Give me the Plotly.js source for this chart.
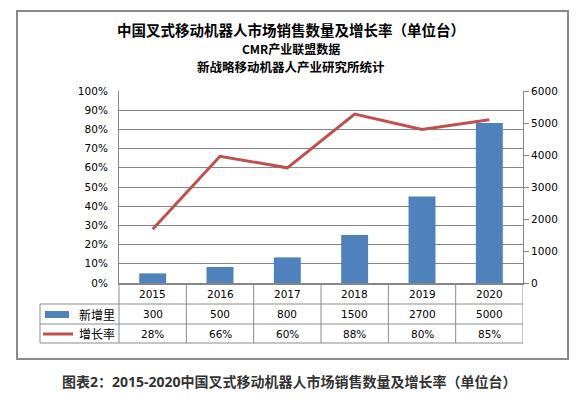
<!DOCTYPE html>
<html>
<head>
<meta charset="utf-8">
<script src="https://cdn.plot.ly/plotly-3.0.1.min.js"></script>
<style>html,body{margin:0;padding:0;background:#fff;}#chart{width:581px;height:398px;}</style>
</head>
<body>
<div id="chart"></div>
<script>
const years = ['2015', '2016', '2017', '2018', '2019', '2020'];
const units = [300, 500, 800, 1500, 2700, 5000];
const rates = [0.28, 0.66, 0.60, 0.88, 0.80, 0.85];
const rateLabels = ['28%', '66%', '60%', '88%', '80%', '85%'];
const seriesNames = ['新增里', '增长率'];
const titleText = '中国叉式移动机器人市场销售数量及增长率（单位台）';
const subtitle1 = 'CMR产业联盟数据';
const subtitle2 = '新战略移动机器人产业研究所统计';
const captionText = '图表2：2015-2020中国叉式移动机器人市场销售数量及增长率（单位台）';

const W = 581, H = 398, L = 119, R = 58, T = 91, B = 115;
const PW = W - L - R, PH = H - T - B;
const px = x => (x - L) / PW;
const py = y => (H - B - y) / PH;

const barColor = '#4F81BD', lineColor = '#C0504D', grid = '#878787';
const numFont = {family: 'DejaVu Sans, Verdana, sans-serif', size: 10.5, color: '#000'};
const cjk = 'Noto Sans CJK SC, sans-serif';

const traces = [
  {type: 'bar', x: years, y: units, yaxis: 'y2', name: seriesNames[0],
   marker: {color: barColor}, width: 0.4, hoverinfo: 'skip'},
  {type: 'scatter', mode: 'lines', x: years, y: rates, yaxis: 'y', name: seriesNames[1],
   line: {color: lineColor, width: 3}, hoverinfo: 'skip'}
];

const shapes = [];
const line = (x0, y0, x1, y1, w, c) => shapes.push({type: 'line', xref: 'paper', yref: 'paper',
  x0: px(x0), x1: px(x1), y0: py(y0), y1: py(y1), line: {color: c || '#8c8c8c', width: w || 1}});
// outer frame
shapes.push({type: 'rect', xref: 'paper', yref: 'paper', x0: px(17), x1: px(568), y0: py(11), y1: py(359),
  line: {color: '#8a8a8a', width: 2}, layer: 'below'});
// table grid
[304, 324, 343].forEach(y => line(40, y, 523, y));
line(40, 304, 40, 343);
line(119, 283, 119, 343);
years.forEach((yr, i) => shapes.push({type: 'line', xref: 'x', yref: 'paper', x0: i + 0.5, x1: i + 0.5,
  y0: py(283), y1: py(343), line: {color: '#8c8c8c', width: 1}}));
// legend keys
shapes.push({type: 'rect', xref: 'paper', yref: 'paper', x0: px(45), x1: px(69), y0: py(311), y1: py(318),
  fillcolor: barColor, line: {width: 0}});
line(43, 334, 73, 334, 3, lineColor);

const annotations = [];
const ann = (text, x, y, font, xref) => annotations.push({text, x, y, xref: xref || 'paper', yref: 'paper',
  showarrow: false, xanchor: 'center', yanchor: 'middle', font});
years.forEach((yr, i) => {
  ann(yr, i, py(293.5), numFont, 'x');
  ann(String(units[i]), i, py(314), numFont, 'x');
  ann(rateLabels[i], i, py(333.5), numFont, 'x');
});
ann(seriesNames[0], px(97), py(314), {family: cjk, size: 12, color: '#000'});
ann(seriesNames[1], px(97), py(333.5), {family: cjk, size: 12, color: '#000'});
ann('<b>' + titleText + '</b>', px(291), py(29.5), {family: cjk, size: 14.5, color: '#000'});
ann('<b>' + subtitle1 + '</b>', px(291), py(48.5), {family: cjk, size: 12, color: '#000'});
ann('<b>' + subtitle2 + '</b>', px(291), py(66), {family: cjk, size: 12.5, color: '#000'});
ann('<b>' + captionText + '</b>', px(289), py(381), {family: 'Open Sans, ' + cjk, size: 14, color: '#333'});

const layout = {
  width: W, height: H,
  margin: {l: L, r: R, t: T, b: B, pad: 0},
  paper_bgcolor: '#fff', plot_bgcolor: '#fff',
  showlegend: false,
  xaxis: {type: 'category', range: [-0.5, 5.5], showticklabels: false, ticks: '',
    showgrid: false, showline: true, linecolor: '#868686', linewidth: 2, zeroline: false, fixedrange: true},
  yaxis: {range: [0, 1], dtick: 0.1, tick0: 0, tickformat: '.0%', showgrid: true, gridcolor: grid, gridwidth: 1,
    showline: true, linecolor: grid, linewidth: 1, ticks: '', zeroline: false, tickfont: numFont,
    ticklabelstandoff: 8, fixedrange: true},
  yaxis2: {range: [0, 6000], dtick: 1000, tick0: 0, overlaying: 'y', side: 'right', showgrid: false,
    showline: true, linecolor: grid, linewidth: 1, ticks: 'outside', ticklen: 5, tickcolor: grid,
    zeroline: false, tickfont: numFont, fixedrange: true},
  shapes, annotations
};

Plotly.newPlot('chart', traces, layout, {displayModeBar: false, staticPlot: true});
</script>
</body>
</html>
